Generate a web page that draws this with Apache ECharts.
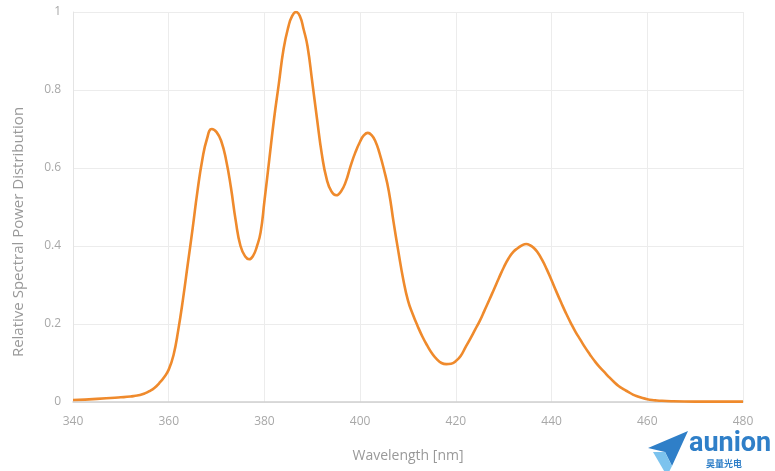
<!DOCTYPE html>
<html>
<head>
<meta charset="utf-8">
<script src="https://cdn.jsdelivr.net/npm/echarts@6/dist/echarts.min.js"></script>
<style>html,body{margin:0;padding:0;background:#fff;}#c{width:775px;height:471px;}</style>
</head>
<body>
<div id="c"></div>
<script>
const wavelengths = [340,345,350,352,353,354,355,356,357,358,359,360,361,362,363,364,365,366,367,368,369,370,371,372,373,374,375,376,376.8,377.6,378.4,379.2,380,381,382,383,384,385,385.8,386.6,387.4,388.2,389,390,391,392,393,394,395,396,397,398,399,400,400.8,401.6,402.4,403.2,404,405,406,407,408,409,410,411,412,413,414,415,416,417,418,419,420,421,422,423,424,425,426,427,428,429,430,431,432,433,434,434.7,435.5,436.3,437,438,439,440,441,442,443,444,445,446,447,448,449,450,451,452,453,454,455,456,457,458,459,460,461,462,465,470,475,480];
const power = [0.005,0.008,0.012,0.014,0.016,0.018,0.022,0.028,0.036,0.048,0.063,0.083,0.120,0.185,0.265,0.355,0.445,0.540,0.620,0.675,0.700,0.692,0.668,0.620,0.550,0.465,0.400,0.373,0.366,0.374,0.398,0.435,0.515,0.620,0.725,0.815,0.905,0.962,0.990,1.000,0.990,0.955,0.912,0.820,0.725,0.635,0.572,0.540,0.530,0.540,0.565,0.605,0.640,0.668,0.684,0.690,0.684,0.668,0.640,0.595,0.540,0.460,0.385,0.315,0.260,0.225,0.195,0.168,0.145,0.125,0.110,0.100,0.097,0.098,0.105,0.118,0.140,0.162,0.185,0.208,0.235,0.262,0.290,0.318,0.345,0.368,0.385,0.395,0.403,0.405,0.402,0.395,0.385,0.365,0.340,0.312,0.283,0.255,0.228,0.203,0.180,0.160,0.140,0.122,0.105,0.090,0.077,0.064,0.052,0.041,0.033,0.026,0.019,0.014,0.010,0.007,0.005,0.004,0.002,0.001,0.001,0.001];
const xTicks = [340,360,380,400,420,440,460,480];
const yTicks = [0,0.2,0.4,0.6,0.8,1];
const xName = 'Wavelength [nm]';
const yName = 'Relative Spectral Power Distribution';

const chart = echarts.init(document.getElementById('c'), null, {renderer:'canvas'});
const txt = '#a8a8a8';
chart.setOption({
  animation:false,
  backgroundColor:'#fff',
  grid:{left:73,right:32,top:12,bottom:69,outerBoundsMode:'none',containLabel:false},
  xAxis:{
    type:'value', min:xTicks[0], max:xTicks[xTicks.length-1], interval:20,
    name:xName, nameLocation:'middle', nameGap:47,
    nameTextStyle:{color:'#999',fontSize:14,fontFamily:'Open Sans'},
    axisLine:{lineStyle:{color:'#d0d0d0',width:1.5}},
    axisTick:{show:false},
    axisLabel:{color:txt,fontSize:12,fontFamily:'Open Sans',margin:14},
    splitLine:{show:true,lineStyle:{color:'#ececec',width:1}}
  },
  yAxis:{
    type:'value', min:yTicks[0], max:yTicks[yTicks.length-1], interval:0.2,
    axisLine:{show:true,lineStyle:{color:'#e4e4e4'}},
    axisTick:{show:false},
    axisLabel:{color:txt,fontSize:12,fontFamily:'Open Sans',margin:12},
    splitLine:{show:true,lineStyle:{color:'#ececec',width:1}}
  },
  series:[{
    type:'line', smooth:0.5, symbol:'none',
    data: wavelengths.map((w,i)=>[w,power[i]]),
    lineStyle:{color:'#ef8a2c',width:2.6}
  }],
  graphic:[
    {type:'text',x:19,y:232,rotation:Math.PI/2,style:{text:yName,fill:'#999',font:'15px "Open Sans"',align:'center',verticalAlign:'middle'}},
    {type:'polygon',shape:{points:[[648,448],[688,431],[672,466],[665,452]]},style:{fill:'#2f7fc8'}},
    {type:'polygon',shape:{points:[[653,452],[665,452],[672,466],[667,476]]},style:{fill:'#7cc3ee'}},
    {type:'text',left:689,top:431,style:{text:'aunion',fill:'#2f7fc8',font:'bold 27px Roboto'}},
    {type:'text',left:706,top:459,style:{text:'昊量光电',fill:'#2f7fc8',font:'bold 9px "Noto Sans CJK SC"'}}
  ]
});
</script>
</body>
</html>
